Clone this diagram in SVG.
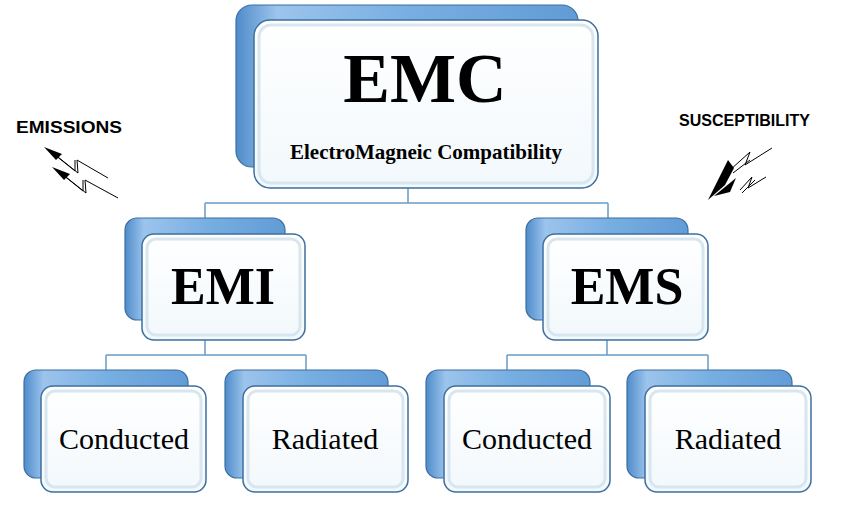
<svg xmlns="http://www.w3.org/2000/svg" width="868" height="505" viewBox="0 0 868 505">
<defs>
<linearGradient id="bg" x1="0" y1="0" x2="1" y2="0"><stop offset="0" stop-color="#4f8ccb"/><stop offset="0.12" stop-color="#9cc4ec"/><stop offset="0.5" stop-color="#78afe2"/><stop offset="1" stop-color="#629cd6"/></linearGradient>
<linearGradient id="fg" x1="0" y1="0" x2="0" y2="1"><stop offset="0" stop-color="#ffffff"/><stop offset="1" stop-color="#f2f8fc"/></linearGradient>
</defs>
<style>
.back{fill:url(#bg);stroke:#3d6f9f;stroke-width:1.2}
.front{fill:url(#fg);stroke:#3d6f9f;stroke-width:1.5}
.inner{fill:none;stroke:#d8e6f0;stroke-width:3}
.con{fill:none;stroke:#6a9cc8;stroke-width:1.5}
.big{font-family:"Liberation Serif",serif;font-weight:bold;text-anchor:middle;fill:#000}
.lbl{font-family:"Liberation Serif",serif;font-size:30px;text-anchor:middle;fill:#000}
.side{font-family:"Liberation Sans",sans-serif;font-weight:bold;font-size:17px;fill:#000}
.bolt{fill:none;stroke:#000;stroke-width:1}
</style>
<rect width="868" height="505" fill="#fff"/>
<g id="connectors">
<path class="con" d="M408 188V203M205 203H608M205 203V218M608 203V218"/>
<path class="con" d="M205 340V355M106 355H306M106 355V370M306 355V370"/>
<path class="con" d="M607 340V355M507 355H708M507 355V370M708 355V370"/>
</g>
<g id="emc">
<rect class="back" x="236" y="5" width="342" height="162" rx="16"/>
<rect class="front" x="254" y="20" width="344" height="168" rx="16"/>
<rect class="inner" x="259" y="25" width="334" height="158" rx="12"/>
<text class="big" x="425" y="102" font-size="70">EMC</text>
<text class="big" x="426" y="159" font-size="21">ElectroMagneic Compatibility</text>
</g>
<g id="emi">
<rect class="back" x="125" y="218" width="160" height="102" rx="12"/>
<rect class="front" x="142" y="234" width="163" height="106" rx="12"/>
<rect class="inner" x="147" y="239" width="153" height="96" rx="9"/>
<text class="big" x="223" y="304" font-size="52">EMI</text>
</g>
<g id="ems">
<rect class="back" x="526" y="218" width="162" height="102" rx="12"/>
<rect class="front" x="543" y="234" width="165" height="106" rx="12"/>
<rect class="inner" x="548" y="239" width="155" height="96" rx="9"/>
<text class="big" x="627" y="304" font-size="52">EMS</text>
</g>
<g id="emi-conducted">
<rect class="back" x="24" y="370" width="164" height="108" rx="12"/>
<rect class="front" x="41" y="386" width="165" height="106" rx="12"/>
<rect class="inner" x="46" y="391" width="155" height="96" rx="9"/>
<text class="lbl" x="124" y="449">Conducted</text>
</g>
<g id="emi-radiated">
<rect class="back" x="225" y="370" width="163" height="108" rx="12"/>
<rect class="front" x="243" y="386" width="165" height="106" rx="12"/>
<rect class="inner" x="248" y="391" width="155" height="96" rx="9"/>
<text class="lbl" x="325" y="449">Radiated</text>
</g>
<g id="ems-conducted">
<rect class="back" x="426" y="370" width="164" height="108" rx="12"/>
<rect class="front" x="444" y="386" width="166" height="106" rx="12"/>
<rect class="inner" x="449" y="391" width="156" height="96" rx="9"/>
<text class="lbl" x="527" y="449">Conducted</text>
</g>
<g id="ems-radiated">
<rect class="back" x="627" y="370" width="165" height="108" rx="12"/>
<rect class="front" x="645" y="386" width="166" height="106" rx="12"/>
<rect class="inner" x="650" y="391" width="156" height="96" rx="9"/>
<text class="lbl" x="728" y="449">Radiated</text>
</g>
<g id="emissions">
<text class="side" x="16" y="133" textLength="106" lengthAdjust="spacingAndGlyphs">EMISSIONS</text>
<polygon points="44,147 62,154 56,160" fill="#000"/>
<polygon points="52,167 70,174 64,180" fill="#000"/>
<path class="bolt" d="M58,157 L78,173 L77,160 L108,178 M55,155 L75,171 L75,160 M66,177 L86,193 L85,180 L118,198 M63,175 L83,191 L83,180"/>
</g>
<g id="susceptibility">
<text class="side" x="679" y="126" textLength="131" lengthAdjust="spacingAndGlyphs">SUSCEPTIBILITY</text>
<polygon points="708,200 728,160 734,168 725,185" fill="#000"/>
<polygon points="714,196 736,178 730,192" fill="#000"/>
<path class="bolt" d="M730,170 L750,152 L745,165 L772,148 M733,173 L750,160 M740,190 L752,177 L748,188 L766,177 M742,193 L755,180"/>
</g>
</svg>
